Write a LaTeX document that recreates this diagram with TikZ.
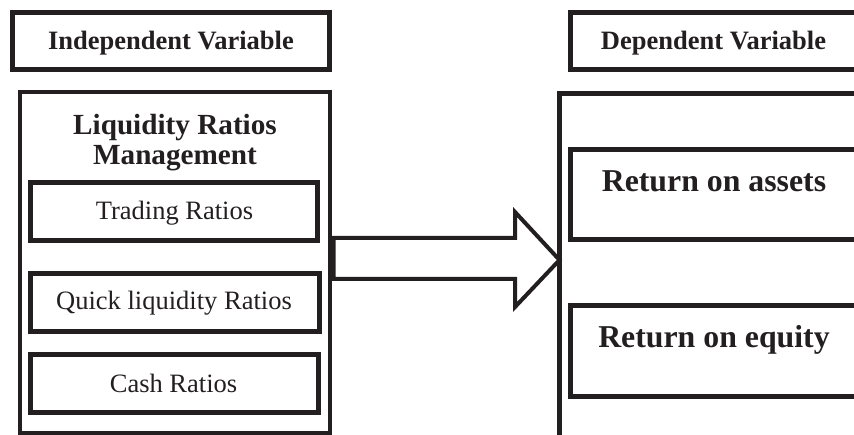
\documentclass[tikz,border=0pt]{standalone}
\usepackage{fontspec}
\setmainfont{Liberation Serif}
\definecolor{ink}{RGB}{35,31,32}
\begin{document}
\begin{tikzpicture}[x=1pt,y=-1pt,
  box/.style={draw=ink,line width=#1,inner sep=0pt,outer sep=0pt},
  box/.default=5pt,
  bold/.style={font=\fontsize{26.5}{30}\selectfont\bfseries,text=ink,inner sep=0pt,anchor=base},
  big/.style={font=\fontsize{31.8}{34}\selectfont\bfseries,text=ink,inner sep=0pt,anchor=base},
  reg/.style={font=\fontsize{26.5}{30}\selectfont,text=ink,inner sep=0pt,anchor=base},
  arrowbody/.style={draw=ink,line width=4pt,fill=white,line join=miter}]
\useasboundingbox (0,0) rectangle (854,435);
% header boxes
\node[box,minimum width=317pt,minimum height=57pt] (indep) at (171,41) {};
\node[bold] (indepT) at (171,50) {Independent Variable};
\node[box,minimum width=287pt,minimum height=57pt] (dep) at (713.5,41.5) {};
\node[bold] (depT) at (713.5,50) {Dependent Variable};
% left group
\node[box=4pt,minimum width=310pt,minimum height=340.5pt] (liq) at (174.5,262.75) {};
\node[font=\fontsize{29.2}{30}\selectfont\bfseries,text=ink,inner sep=0pt,anchor=base] (liqT1) at (175,135) {Liquidity Ratios};
\node[font=\fontsize{29.2}{30}\selectfont\bfseries,text=ink,inner sep=0pt,anchor=base] (liqT2) at (175,165) {Management};
\node[box,minimum width=287pt,minimum height=58.5pt] (trad) at (174,211.75) {};
\node[reg] (tradT) at (174.5,220) {Trading Ratios};
\node[box,minimum width=288.5pt,minimum height=58pt] (quick) at (174.75,303) {};
\node[reg] (quickT) at (174,310) {Quick liquidity Ratios};
\node[box,minimum width=287.5pt,minimum height=57pt] (cash) at (174.25,383.5) {};
\node[reg] (cashT) at (173.5,392) {Cash Ratios};
% right group
\node[box,minimum width=310.5pt,minimum height=351.5pt] (dv) at (714.75,269.25) {};
\node[box,minimum width=288pt,minimum height=90.5pt] (roa) at (714,194.75) {};
\node[big] (roaT) at (714,192) {Return on assets};
\node[box,minimum width=288pt,minimum height=91pt] (roe) at (714,351.5) {};
\node[big] (roeT) at (714,348) {Return on equity};
% block arrow
\coordinate (tip) at (dv.west |- 0,260);
\draw[arrowbody] (333.5,238) -- (515,238) -- (515,212) -- (tip) -- (515,307) -- (515,279) -- (333.5,279) -- cycle;
\end{tikzpicture}
\end{document}
